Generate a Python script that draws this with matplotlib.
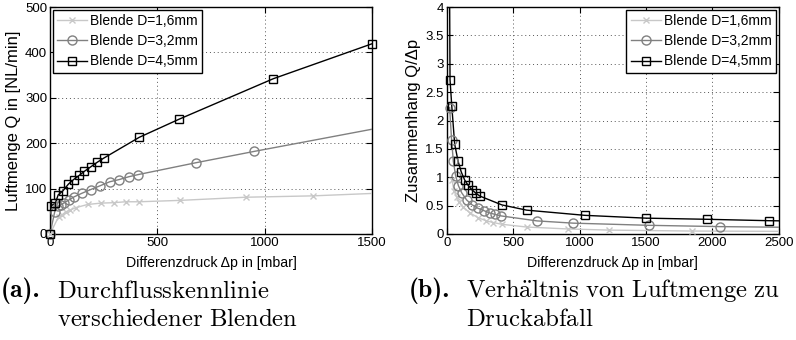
import matplotlib
matplotlib.use("Agg")
import matplotlib.pyplot as plt
from matplotlib.lines import Line2D
import numpy as np

plt.rcParams['font.family'] = ['Liberation Sans', 'DejaVu Sans']
plt.rcParams['mathtext.fontset'] = 'cm'

# ---- data ----
labels = ['Blende D=1,6mm', 'Blende D=3,2mm', 'Blende D=4,5mm']

dp_16 = [0, 40, 55, 75, 95, 120, 175, 236, 298, 352, 415, 604, 912, 1225, 1845, 2700]
q_16 = [0, 38, 42, 49, 53, 58, 65, 68, 69, 71, 71, 74, 81, 84, 96, 122]

dp_32 = [0, 22, 37, 50, 67, 88, 113, 150, 190, 232, 278, 323, 366, 412, 680, 952, 1525, 2060, 2700]
q_32 = [0, 49, 61, 64, 69, 75, 82, 90, 98, 106, 115, 120, 126, 131, 157, 182, 233, 268, 310]

dp_45 = [0, 5, 25, 38, 60, 86, 110, 136, 160, 190, 220, 250, 416, 602, 1040, 1500, 1960, 2430, 2700]
q_45 = [0, 62, 68, 86, 95, 110, 120, 129, 138, 148, 158, 167, 213, 253, 342, 419, 508, 569, 610]

left_xticks = [0, 500, 1000, 1500]
left_yticks = [0, 100, 200, 300, 400, 500]
right_xticks = [0, 500, 1000, 1500, 2000, 2500]
right_yticks = [0, 0.5, 1, 1.5, 2, 2.5, 3, 3.5, 4]
right_yticklabels = ['0', '0.5', '1', '1.5', '2', '2.5', '3', '3.5', '4']

styles = [dict(color='#c8c8c8', marker='x', ms=4.5, mew=1.0),
          dict(color='#808080', marker='o', ms=6.5, mew=1.0, mfc='none'),
          dict(color='#000000', marker='s', ms=5.5, mew=1.0, mfc='none')]

series = [(dp_16, q_16), (dp_32, q_32), (dp_45, q_45)]

fig = plt.figure(figsize=(7.96, 3.40), dpi=100)
W, H = 796, 340

def ax_at(x0, y0, x1, y1):
    return fig.add_axes([x0 / W, 1 - y1 / H, (x1 - x0) / W, (y1 - y0) / H])

axL = ax_at(50, 7, 372, 234)
axR = ax_at(446.7, 7, 778.7, 234)

def draw(ax, xs, ys, st, xlim, ylim):
    xs = np.asarray(xs, float); ys = np.asarray(ys, float)
    ax.plot(xs, ys, color=st['color'], lw=1.0, zorder=3)
    m = (xs >= xlim[0]) & (xs <= xlim[1]) & (ys >= ylim[0]) & (ys <= ylim[1])
    ax.plot(xs[m], ys[m], ls='none', marker=st['marker'], ms=st['ms'], mew=st['mew'],
            mec=st['color'], mfc=st.get('mfc', st['color']), clip_on=False, zorder=4)

handles = []
for (xs, ys), st, lab in zip(series, styles, labels):
    draw(axL, xs, ys, st, (0, 1500), (0, 500))
    xs_a = np.asarray(xs, float); ys_a = np.asarray(ys, float)
    nz = xs_a > 0
    draw(axR, xs_a[nz], ys_a[nz] / xs_a[nz], st, (0, 2500), (0, 4))
    handles.append(Line2D([], [], color=st['color'], lw=1.0, marker=st['marker'], ms=st['ms'],
                          mew=st['mew'], mec=st['color'], mfc=st.get('mfc', st['color']), label=lab))

for ax, xl, yl, xt, yt in [(axL, (0, 1500), (0, 500), left_xticks, left_yticks),
                           (axR, (0, 2500), (0, 4), right_xticks, right_yticks)]:
    ax.set_xlim(*xl); ax.set_ylim(*yl)
    ax.set_xticks(xt); ax.set_yticks(yt)
    ax.grid(True, ls=(0, (1, 3)), color='#555555', lw=0.7)
    ax.tick_params(direction='in', top=True, right=True, labelsize=9.5, length=4, width=0.8, pad=2)
    for s in ax.spines.values():
        s.set_linewidth(1.0)
    ax.set_xlabel('Differenzdruck \u0394p in [mbar]', fontsize=10.2, labelpad=5)

axR.set_yticklabels(right_yticklabels)
axL.set_ylabel('Luftmenge Q in [NL/min]', fontsize=12, labelpad=3)
axR.set_ylabel('Zusammenhang Q/\u0394p', fontsize=12, labelpad=3)

for ax, loc in [(axL, 'upper left'), (axR, 'upper right')]:
    lg = ax.legend(handles=handles, loc=loc, fontsize=10, frameon=True, fancybox=False,
                   edgecolor='black', framealpha=1, borderpad=0.3, handlelength=2.2,
                   handletextpad=0.2, labelspacing=0.45, borderaxespad=0.2)
    lg.get_frame().set_linewidth(1.0)

cap_fs = 17.8
y1, y2 = 1 - 291 / H, 1 - 319 / H
fig.text(1 / W, y1, '(a).', family='cmb10', fontsize=18.5, va='center', ha='left')
fig.text(57 / W, y1, r'$\mathrm{Durchflusskennlinie}$', fontsize=cap_fs, va='center', ha='left')
fig.text(57 / W, y2, r'$\mathrm{verschiedener\ Blenden}$', fontsize=cap_fs, va='center', ha='left')
fig.text(409 / W, y1, '(b).', family='cmb10', fontsize=18.5, va='center', ha='left')
fig.text(466 / W, y1, r'$\mathrm{Verh\ddot{a}ltnis\ von\ Luftmenge\ zu}$', fontsize=cap_fs, va='center', ha='left')
fig.text(466 / W, y2, r'$\mathrm{Druckabfall}$', fontsize=cap_fs, va='center', ha='left')

fig.savefig('out.png', dpi=100)
